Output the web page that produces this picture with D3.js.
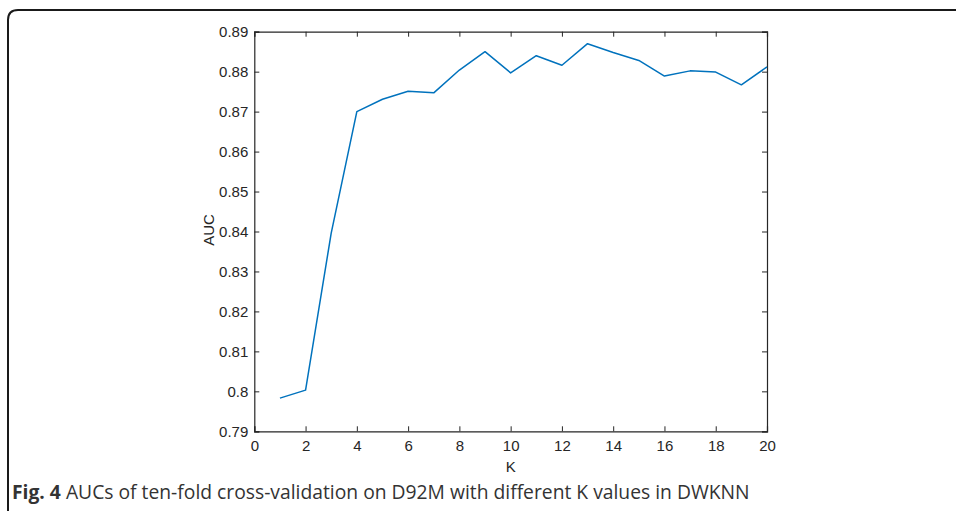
<!DOCTYPE html>
<html><head><meta charset="utf-8">
<script src="https://cdn.jsdelivr.net/npm/d3@7"></script>
<style>body{margin:0;background:#fff;} svg{display:block;}</style>
</head><body>
<svg id="c" width="956" height="511"></svg>
<script>
const kValues = [1,2,3,4,5,6,7,8,9,10,11,12,13,14,15,16,17,18,19,20];
const aucValues = [0.7983,0.8003,0.8396,0.8700,0.8731,0.8751,0.8747,0.8804,0.8850,0.8797,0.8840,0.8816,0.8870,0.8848,0.8828,0.8789,0.8802,0.8799,0.8767,0.8812];
const xTicks = [0,2,4,6,8,10,12,14,16,18,20];
const yTicks = [0.79,0.80,0.81,0.82,0.83,0.84,0.85,0.86,0.87,0.88,0.89];
const yTickLabels = ["0.79","0.8","0.81","0.82","0.83","0.84","0.85","0.86","0.87","0.88","0.89"];

const svg = d3.select("#c");
const L = 254.3, R = 767, T = 31.7, B = 431.3;
const x = d3.scaleLinear().domain([0,20]).range([L,R]);
const y = d3.scaleLinear().domain([0.79,0.89]).range([B,T]);

svg.append("path")
  .attr("d", `M8,511 L8,20 Q8,10 18,10 L956,10`)
  .attr("fill","none").attr("stroke","#1a1a1a").attr("stroke-width",2);

const font = "'Liberation Sans', Arial, sans-serif";
const axisColor = "#262626";

const gx = svg.append("g").attr("transform",`translate(0,${B})`)
  .call(d3.axisBottom(x).tickValues(xTicks).tickSize(-5).tickPadding(9).tickFormat(d3.format("d")));
const gxt = svg.append("g").attr("transform",`translate(0,${T})`)
  .call(d3.axisTop(x).tickValues(xTicks).tickSize(-5).tickFormat(""));
const gy = svg.append("g").attr("transform",`translate(${L},0)`)
  .call(d3.axisLeft(y).tickValues(yTicks).tickSize(-5).tickPadding(6).tickFormat((d,i)=>yTickLabels[i]));
const gyr = svg.append("g").attr("transform",`translate(${R},0)`)
  .call(d3.axisRight(y).tickValues(yTicks).tickSize(-5).tickFormat(""));

[gx,gxt,gy,gyr].forEach(g=>{
  g.attr("font-size",null).attr("font-family",null);
  g.selectAll("path.domain").attr("stroke",axisColor).attr("stroke-width",1.2);
  g.selectAll(".tick line").attr("stroke",axisColor).attr("stroke-width",1);
  g.selectAll("text").attr("fill","#262626").attr("font-family",font).attr("font-size",15);
});

const line = d3.line().x((d,i)=>x(kValues[i])).y(d=>y(d));
svg.append("path").datum(aucValues)
  .attr("d",line).attr("fill","none").attr("stroke","#0072BD").attr("stroke-width",1.5)
  .attr("stroke-linejoin","round");

svg.append("text").attr("x",(L+R)/2).attr("y",472).attr("text-anchor","middle")
  .attr("font-family",font).attr("font-size",15).attr("fill","#262626").text("K");
svg.append("text").attr("transform",`translate(214,230) rotate(-90)`).attr("text-anchor","middle")
  .attr("font-family",font).attr("font-size",15).attr("fill","#262626").text("AUC");

const cap = svg.append("text").attr("x",12).attr("y",499)
  .attr("font-family","'Open Sans', sans-serif").attr("font-size",19.3).attr("fill","#333");
cap.append("tspan").attr("font-weight","bold").text("Fig. 4");
cap.append("tspan").text(" AUCs of ten-fold cross-validation on D92M with different K values in DWKNN");
</script>
</body></html>
